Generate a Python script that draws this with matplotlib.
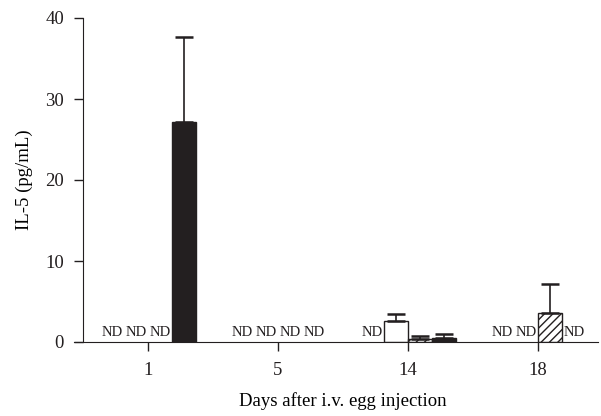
import matplotlib
matplotlib.use("Agg")
import matplotlib.pyplot as plt
import numpy as np

plt.rcParams['font.family'] = ['Liberation Serif', 'DejaVu Serif']
plt.rcParams['hatch.linewidth'] = 1.0

days = ["1", "5", "14", "18"]
# four groups (series) per day; None = not detected (ND)
series_a = [None, None, None, None]
series_b = [None, None, 2.6, None]
series_c = [None, None, 0.35, 3.6]
series_d = [27.2, None, 0.45, None]
err_a = [0, 0, 0, 0]
err_b = [0, 0, 0.8, 0]
err_c = [0, 0, 0.35, 3.5]
err_d = [10.4, 0, 0.55, 0]

series = [series_a, series_b, series_c, series_d]
errors = [err_a, err_b, err_c, err_d]
faces = ['white', 'white', 'white', '#231f20']
hatches = [None, None, '////', None]

fig = plt.figure(figsize=(6.01, 4.16), dpi=100)
ax = fig.add_axes([74/601, 1-342/416, (598-74)/601, (342-18)/416])

x = np.arange(len(days))
w = 0.185
offsets = [-1.5*w, -0.5*w, 0.5*w, 1.5*w]

for vals, errs, fc, h, off in zip(series, errors, faces, hatches, offsets):
    for xi, v, e in zip(x, vals, errs):
        pos = xi + off
        if v is None:
            ax.text(pos, 0.75, "ND", ha='center', va='baseline', fontsize=10.5,
                    color='#231f20')
            continue
        ax.bar(pos, v, width=w, color=fc, edgecolor='#231f20', linewidth=1.0,
               hatch=h, zorder=2)
        if e > 0:
            ax.errorbar(pos, v, yerr=[[0], [e]], fmt='none', ecolor='#231f20',
                        elinewidth=1.2, capsize=6.5, capthick=1.8, zorder=3)

ax.set_xlim(-0.569, 3.462)
ax.set_ylim(0, 40)
ax.set_xticks(x)
ax.set_xticklabels(days)
ax.set_yticks([0, 10, 20, 30, 40])
ax.spines['top'].set_visible(False)
ax.spines['right'].set_visible(False)
ax.spines['left'].set_position(('data', -0.5))
ax.spines['left'].set_color('#231f20')
ax.spines['bottom'].set_color('#231f20')
ax.tick_params(axis='both', direction='out', length=6.2, width=1.0,
               labelsize=13.5, colors='#231f20')
ax.tick_params(axis='x', pad=8.5)
ax.tick_params(axis='y', pad=7.5)
ax.set_ylabel("IL-5 (pg/mL)", fontsize=13.5, labelpad=9)
ax.set_xlabel("Days after i.v. egg injection", fontsize=13.5)
ax.xaxis.set_label_coords((343-74)/524, -0.155)
ax.xaxis.label.set_va('top')
ax.patch.set_visible(False)

fig.savefig("out.png", dpi=100)
